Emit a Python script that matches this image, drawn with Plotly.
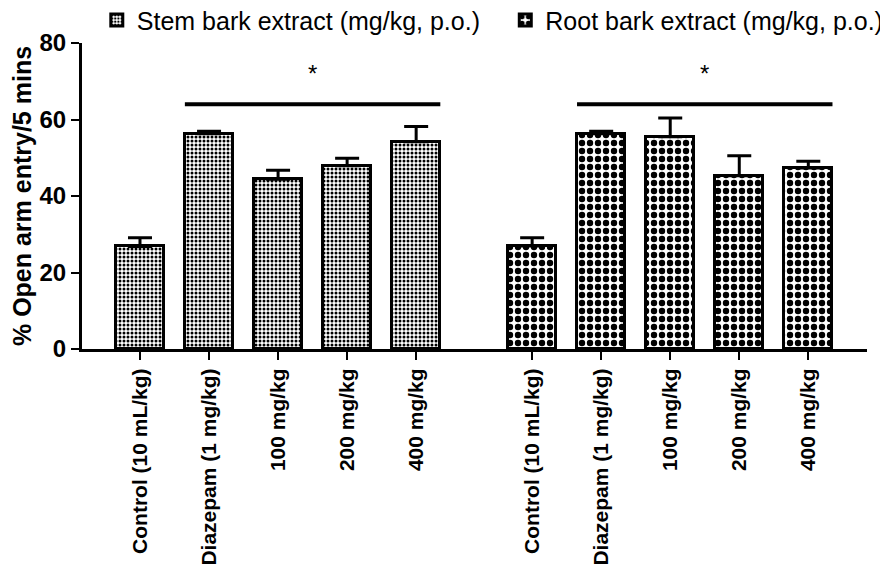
import plotly.graph_objects as go

# ---- data ----
categories = ["Control (10 mL/kg)", "Diazepam (1 mg/kg)", "100 mg/kg", "200 mg/kg", "400 mg/kg"]
stem_mean = [26.8, 56.3, 44.4, 47.9, 54.2]
stem_sem = [2.3, 0.6, 2.3, 2.0, 4.0]
root_mean = [26.9, 56.3, 55.5, 45.3, 47.3]
root_sem = [2.2, 0.6, 4.9, 5.2, 1.8]
y_ticks = [0, 20, 40, 60, 80]
sig_level = 64
star_level = 68

# ---- layout helpers ----
GAP = 5.68
BAR_W = 0.7
stem_x = [i for i in range(len(categories))]
root_x = [GAP + i for i in range(len(categories))]

FONT = "Liberation Sans, Arial, sans-serif"

fig = go.Figure()

fig.add_trace(go.Bar(
    x=stem_x, y=stem_mean, width=BAR_W,
    name="Stem bark extract (mg/kg, p.o.)", legend="legend",
    marker=dict(color="white",
                line=dict(color="black", width=3),
                pattern=dict(shape=".", size=4, solidity=0.45, fgcolor="black",
                             bgcolor="white", fgopacity=1)),
    error_y=dict(type="data", symmetric=False, array=stem_sem, arrayminus=[0]*len(stem_sem),
                 color="black", thickness=3, width=12),
))
fig.add_trace(go.Bar(
    x=root_x, y=root_mean, width=BAR_W,
    name="Root bark extract (mg/kg, p.o.)", legend="legend2",
    marker=dict(color="white",
                line=dict(color="black", width=3),
                pattern=dict(shape=".", size=8, solidity=0.5, fgcolor="black",
                             bgcolor="white", fgopacity=1)),
    error_y=dict(type="data", symmetric=False, array=root_sem, arrayminus=[0]*len(root_sem),
                 color="black", thickness=3, width=12),
))

# significance bars
for xs in (stem_x, root_x):
    x0 = xs[1] - BAR_W / 2
    x1 = xs[-1] + BAR_W / 2
    fig.add_shape(type="line", x0=x0, x1=x1, y0=sig_level, y1=sig_level,
                  xref="x", yref="y", line=dict(color="black", width=4))
    fig.add_annotation(x=(x0 + x1) / 2, y=star_level, text="*", showarrow=False,
                       xref="x", yref="y", yanchor="bottom",
                       font=dict(family=FONT, size=24, color="black"))

leg_common = dict(orientation="h", xref="container", yref="container",
                  y=0.979, xanchor="left", yanchor="middle",
                  font=dict(family=FONT, size=25, color="black"),
                  bgcolor="rgba(0,0,0,0)")

fig.update_layout(
    width=888, height=585,
    margin=dict(l=74, r=29, t=35, b=244, autoexpand=False),
    paper_bgcolor="white", plot_bgcolor="white",
    font=dict(family=FONT, color="black"),
    showlegend=True,
    legend=dict(x=0.100, **leg_common),
    legend2=dict(x=0.560, **leg_common),
    bargap=0,
)

fig.update_xaxes(
    range=[-0.84, 10.53],
    tickvals=stem_x + root_x,
    ticktext=categories + categories,
    tickangle=-90,
    tickfont=dict(family=FONT, size=21, color="black", weight="bold"),
    showline=True, linecolor="black", linewidth=3,
    ticks="outside", ticklen=8, tickwidth=2, tickcolor="black",
    showgrid=False, zeroline=False, automargin=False,
)
fig.update_yaxes(
    range=[0, 80],
    tickvals=y_ticks,
    tickfont=dict(family=FONT, size=24, color="black", weight="bold"),
    showline=True, linecolor="black", linewidth=3,
    ticks="outside", ticklen=8, tickwidth=2, tickcolor="black",
    showgrid=False, zeroline=False, automargin=False,
    title=dict(text="% Open arm entry/5 mins",
               font=dict(family=FONT, size=25, color="black", weight="bold"),
               standoff=6),
)

fig.write_html("out.html")
